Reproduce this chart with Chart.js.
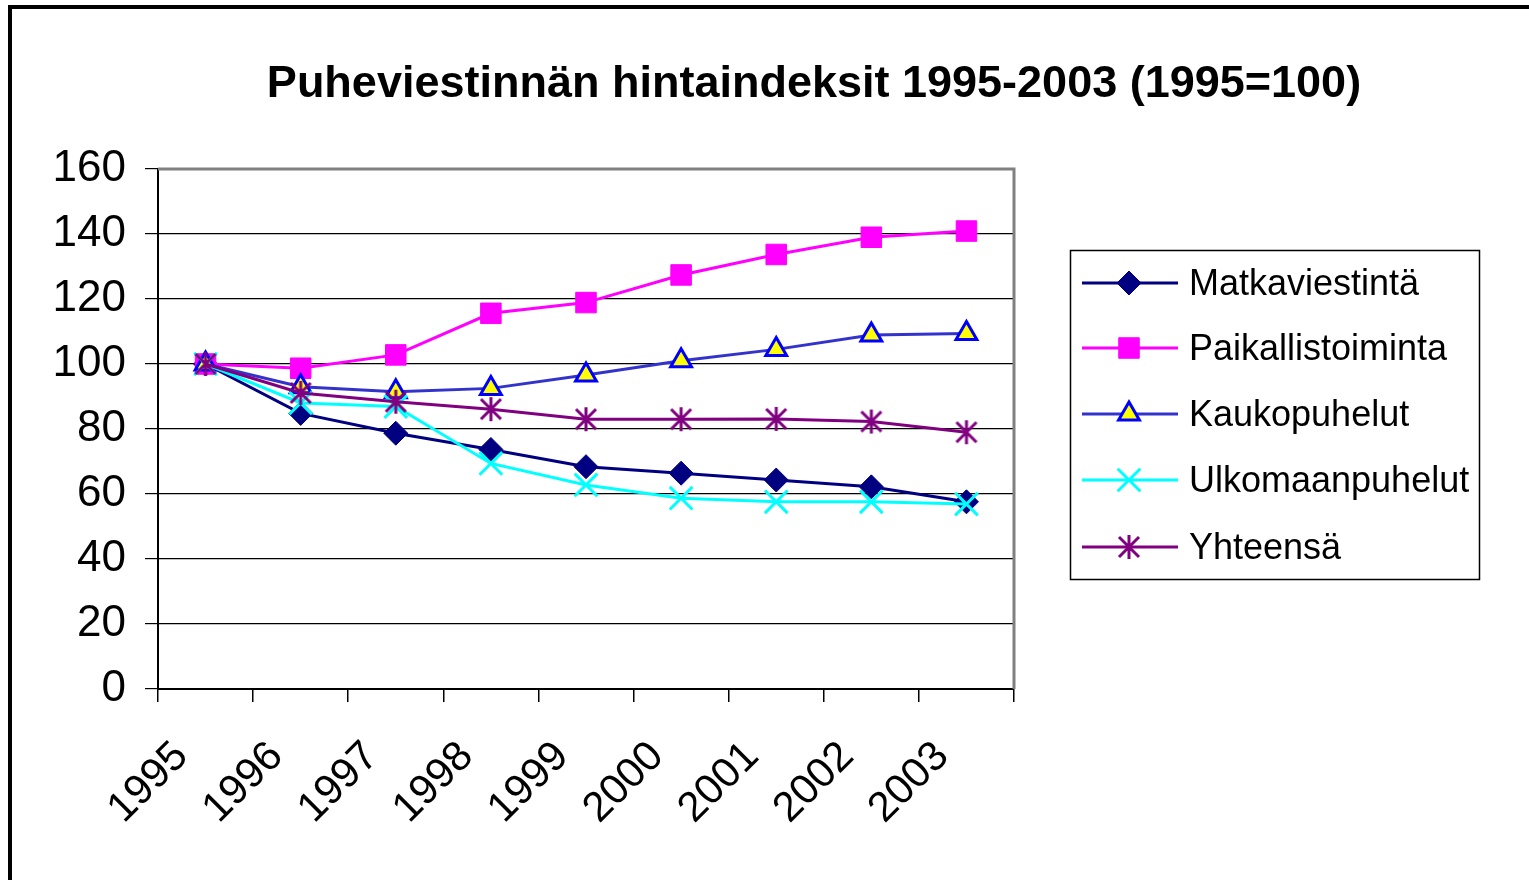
<!DOCTYPE html>
<html>
<head>
<meta charset="utf-8">
<script src="https://cdn.jsdelivr.net/npm/chart.js@4/dist/chart.umd.min.js"></script>
<style>
html,body{margin:0;padding:0;background:#fff;}
#wrap{position:relative;width:1529px;height:880px;}
</style>
</head>
<body>
<div id="wrap"><canvas id="c" width="1529" height="880"></canvas></div>
<script>
const titleText = "Puheviestinnän hintaindeksit 1995-2003 (1995=100)";
const years = ["1995","1996","1997","1998","1999","2000","2001","2002","2003"];
const seriesNames = ["Matkaviestintä","Paikallistoiminta","Kaukopuhelut","Ulkomaanpuhelut","Yhteensä"];
const matkaviestinta   = [100, 84.8, 78.7, 73.7, 68.4, 66.4, 64.3, 62.2, 57.6];
const paikallistoiminta = [100, 98.7, 102.8, 115.6, 118.9, 127.4, 133.7, 139.0, 140.9];
const kaukopuhelut     = [100, 93.0, 91.5, 92.5, 96.6, 101.0, 104.5, 108.9, 109.4];
const ulkomaanpuhelut  = [100, 88.0, 86.9, 69.4, 62.8, 58.7, 57.6, 57.6, 56.9];
const yhteensa         = [100, 91.1, 88.4, 86.1, 83.0, 83.0, 83.1, 82.3, 79.0];
const yTicks = [0, 20, 40, 60, 80, 100, 120, 140, 160];

// asterisk marker image
function makeStar(color){
  const c = document.createElement('canvas');
  c.width = 26; c.height = 26;
  const g = c.getContext('2d');
  g.strokeStyle = color; g.lineWidth = 3; g.lineCap = 'butt';
  g.beginPath();
  g.moveTo(3,3); g.lineTo(23,23);
  g.moveTo(23,3); g.lineTo(3,23);
  g.moveTo(13,1); g.lineTo(13,25);
  g.stroke();
  return c;
}
const starImg = makeStar('#800080');

const styles = [
  {line:'#000080', fill:'#000080', border:'#000080', pointStyle:'rectRot', radius:12, bw:1},
  {line:'#FF00FF', fill:'#FF00FF', border:'#FF00FF', pointStyle:'rect', radius:14.5, bw:1},
  {line:'#3333CC', fill:'#FFFF00', border:'#0000FF', pointStyle:'triangle', radius:12, bw:3},
  {line:'#00FFFF', fill:'#00FFFF', border:'#00FFFF', pointStyle:'crossRot', radius:16, bw:3},
  {line:'#800080', fill:'#800080', border:'#800080', pointStyle:starImg, radius:12, bw:3}
];
const values = [matkaviestinta, paikallistoiminta, kaukopuhelut, ulkomaanpuhelut, yhteensa];

const datasets = seriesNames.map((name, i) => ({
  label: name,
  data: values[i],
  borderColor: styles[i].line,
  backgroundColor: styles[i].fill,
  borderWidth: 3,
  tension: 0,
  pointStyle: styles[i].pointStyle,
  pointRadius: styles[i].radius,
  pointHoverRadius: styles[i].radius,
  pointBackgroundColor: styles[i].fill,
  pointBorderColor: styles[i].border,
  pointBorderWidth: styles[i].bw,
  order: 10 - i
}));

const framePlugin = {
  id: 'frame',
  beforeDraw(chart) {
    const ctx = chart.ctx;
    ctx.save();
    ctx.fillStyle = '#fff';
    ctx.fillRect(0, 0, chart.width, chart.height);
    // outer frame
    ctx.strokeStyle = '#000';
    ctx.lineWidth = 4;
    ctx.beginPath();
    ctx.moveTo(10, 900);
    ctx.lineTo(10, 7);
    ctx.lineTo(1540, 7);
    ctx.stroke();
    ctx.restore();
  },
  beforeDatasetsDraw(chart) {
    const a = chart.chartArea, ctx = chart.ctx;
    ctx.save();
    ctx.strokeStyle = '#808080';
    ctx.lineWidth = 3;
    ctx.beginPath();
    ctx.moveTo(a.left, a.top);
    ctx.lineTo(a.right, a.top);
    ctx.lineTo(a.right, a.bottom);
    ctx.stroke();
    ctx.restore();
  },
  afterDraw(chart) {
    const ctx = chart.ctx;
    ctx.save();
    // title
    ctx.fillStyle = '#000';
    ctx.font = 'bold 45px "Liberation Sans", Arial, sans-serif';
    ctx.textAlign = 'center';
    ctx.textBaseline = 'alphabetic';
    ctx.fillText(titleText, 814, 97);
    // legend box
    ctx.strokeStyle = '#000';
    ctx.lineWidth = 1.5;
    ctx.strokeRect(1070.5, 250.5, 409, 329);
    const rowY = [283, 348, 414, 480, 547];
    chart.data.datasets.forEach((ds, i) => {
      const y = rowY[i];
      ctx.strokeStyle = ds.borderColor;
      ctx.lineWidth = 3;
      ctx.beginPath();
      ctx.moveTo(1082, y);
      ctx.lineTo(1178, y);
      ctx.stroke();
      ctx.fillStyle = ds.pointBackgroundColor;
      ctx.strokeStyle = ds.pointBorderColor;
      ctx.lineWidth = ds.pointBorderWidth;
      Chart.helpers.drawPoint(ctx, {pointStyle: ds.pointStyle, radius: ds.pointRadius, rotation: 0, borderWidth: ds.pointBorderWidth}, 1129, y);
      ctx.fillStyle = '#000';
      ctx.font = '36px "Liberation Sans", Arial, sans-serif';
      ctx.textAlign = 'left';
      ctx.textBaseline = 'middle';
      ctx.fillText(ds.label, 1189, y + 2);
    });
    ctx.restore();
  }
};

new Chart(document.getElementById('c'), {
  type: 'line',
  data: { labels: years, datasets: datasets },
  plugins: [framePlugin],
  options: {
    responsive: false,
    animation: false,
    events: [],
    layout: { padding: { top: 169, right: 515, left: 0, bottom: 0 } },
    plugins: { legend: { display: false }, title: { display: false }, tooltip: { enabled: false } },
    scales: {
      x: {
        type: 'category',
        offset: true,
        afterFit(scale) { scale.height = 880 - 689; },
        grid: { offset: true, drawOnChartArea: false, drawTicks: true, tickLength: 13, color: '#000', tickColor: '#000', lineWidth: 1.5 },
        border: { display: true, color: '#000', width: 2 },
        ticks: {
          autoSkip: false, minRotation: 45, maxRotation: 45,
          color: '#000', padding: 30, labelOffset: -24,
          font: { family: '"Liberation Sans", Arial, sans-serif', size: 42 }
        }
      },
      y: {
        min: 0, max: 160,
        afterFit(scale) { scale.width = 158; },
        afterBuildTicks(scale) { scale.ticks = yTicks.map(v => ({ value: v })); },
        grid: {
          drawTicks: true, tickLength: 13, tickColor: '#000', lineWidth: 1.2,
          color: (c) => (c.tick && c.tick.value === 160) ? 'rgba(0,0,0,0)' : '#000'
        },
        border: { display: true, color: '#000', width: 2 },
        ticks: {
          color: '#000', padding: 19,
          font: { family: '"Liberation Sans", Arial, sans-serif', size: 44 }
        }
      }
    }
  }
});
</script>
</body>
</html>
